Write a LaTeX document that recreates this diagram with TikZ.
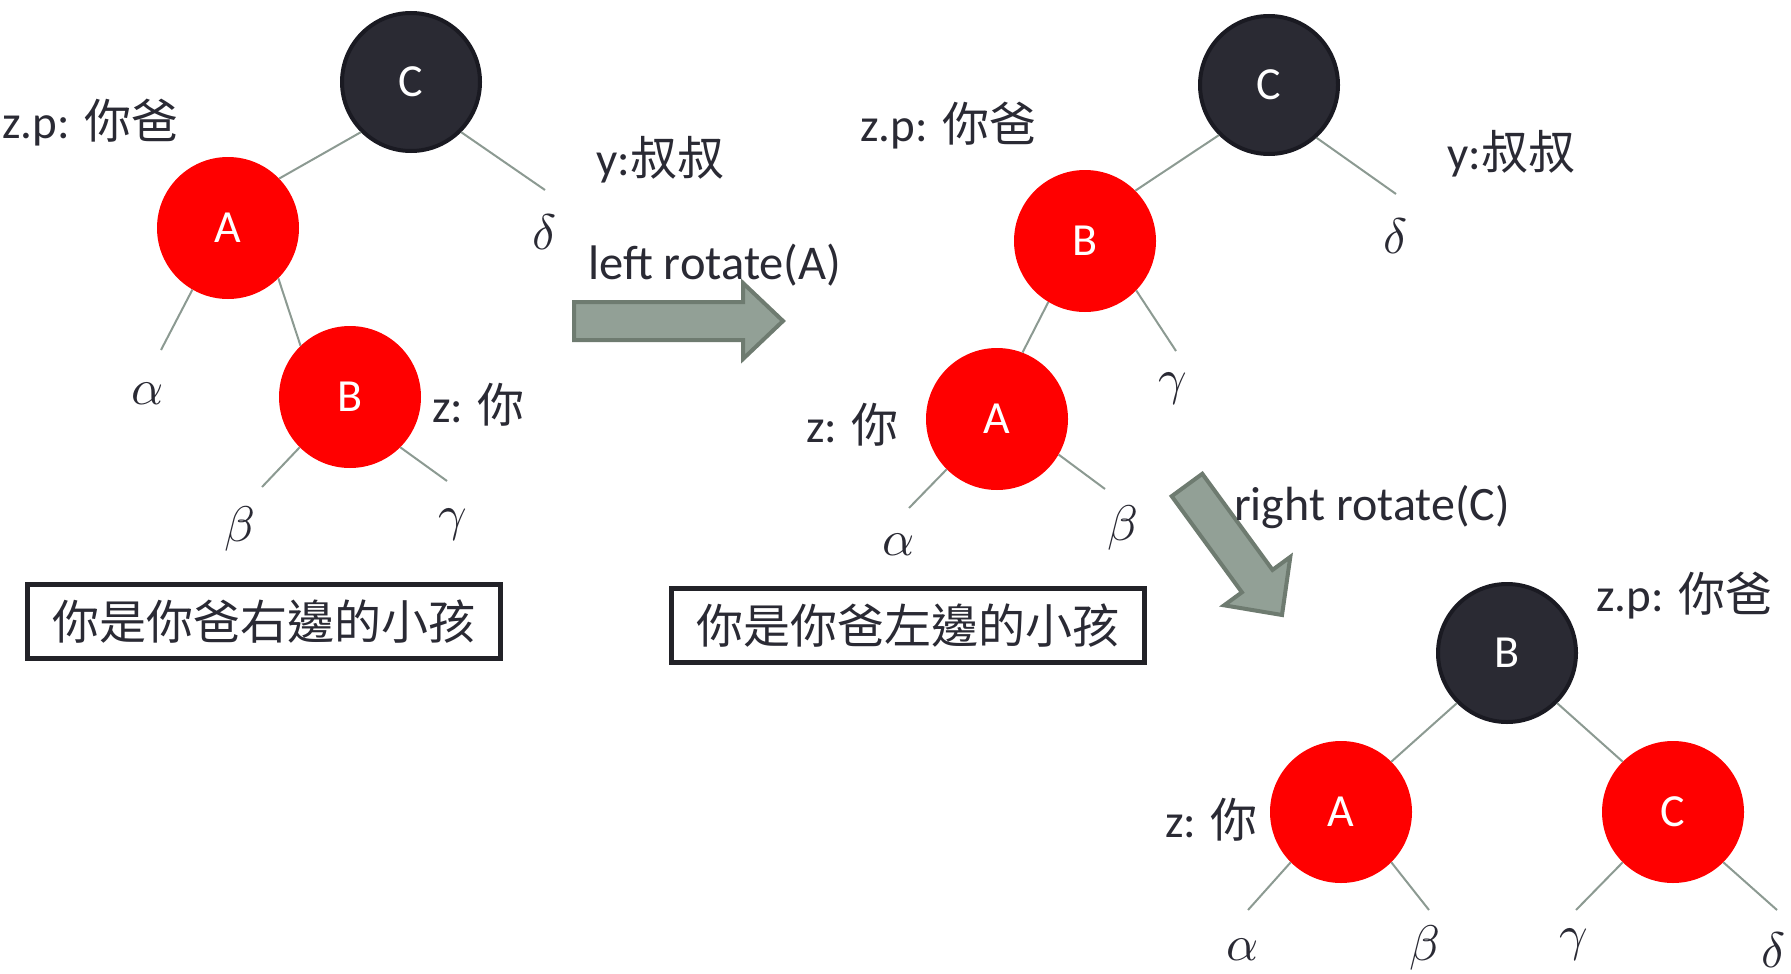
\documentclass[tikz,border=0pt]{standalone}
\usepackage{fontspec}
\setmainfont{Carlito}
\newfontfamily\cjk{Noto Sans CJK TC}
\DeclareFontShape{OML}{cmm}{m}{it}{<->cmmi10}{}
\definecolor{txt}{RGB}{42,42,52}
\definecolor{blk}{RGB}{42,42,51}
\definecolor{blkb}{RGB}{26,26,34}
\definecolor{edgec}{RGB}{140,154,146}
\definecolor{arrf}{RGB}{146,160,150}
\definecolor{arrb}{RGB}{110,123,112}
\definecolor{boxb}{RGB}{34,34,40}
\tikzset{
  rb/.style={circle, minimum size=142pt, inner sep=0pt, fill=red, text=white, font=\fontsize{46}{55}\selectfont},
  bk/.style={rb, minimum size=138pt, fill=blk, draw=blkb, line width=4pt},
  lbl/.style={anchor=west, inner sep=0pt, text=txt, font=\fontsize{47}{56}\selectfont},
  gr/.style={inner sep=0pt, text=txt, font=\fontsize{50}{60}\selectfont},
  br/.style={draw=edgec, line width=2pt},
  bigarrow/.style={fill=arrf, draw=arrb, line width=4pt, line join=miter},
  boxed/.style={draw=boxb, line width=5pt, minimum width=473pt, minimum height=74pt, inner sep=0pt, text=txt, font=\fontsize{47}{56}\selectfont\cjk}
}
\begin{document}
\begin{tikzpicture}[x=1pt,y=-1pt]
\useasboundingbox (0,0) rectangle (1791,974);
% block arrows
\draw[bigarrow] (574,302) -- (743,302) -- (743,283) -- (783,321) -- (743,359) -- (743,340) -- (574,340) -- cycle;
\draw[bigarrow] (1202.3,473.8) -- (1272.5,569.9) -- (1290.3,556.9) -- (1282,615) -- (1224.1,605.3) -- (1241.9,592.3) -- (1171.7,496.2) -- cycle;

% ---------- tree 1 ----------
\node[bk] (C1) at (411,82) {C};
\node[rb] (A1) at (228,228) {A};
\node[rb] (B1) at (350,397) {B};
\coordinate (d1e) at (545,190);
\coordinate (a1e) at (161,350);
\coordinate (b1e) at (262,487);
\coordinate (g1e) at (447,481);
\draw[br] (C1.225) -- (A1.44);
\draw[br] (C1.-45) -- (d1e);
\draw[br] (A1.240) -- (a1e);
\draw[br] (A1.-45) -- (B1.134);
\draw[br] (B1.225) -- (b1e);
\draw[br] (B1.-45) -- (g1e);
\node[lbl] (zp1) at (2,123) {z.p: {\cjk 你爸}};
\node[lbl] (y1) at (596,160) {y:{\cjk 叔叔}};
\node[lbl] (z1) at (432,405) {z: {\cjk 你}};
\node[gr] (d1) at (545,232) {$\delta$};
\node[gr] (a1) at (148,394) {$\alpha$};
\node[gr] (b1) at (240,529) {$\beta$};
\node[gr] (g1) at (453,525) {$\gamma$};
\node[boxed] (box1) at (264,621.5) {你是你爸右邊的小孩};

% ---------- tree 2 ----------
\node[bk] (C2) at (1269,85) {C};
\node[rb] (B2) at (1085,241) {B};
\node[rb] (A2) at (997,419) {A};
\coordinate (d2e) at (1396,194);
\coordinate (g2e) at (1176,351);
\coordinate (a2e) at (909,508);
\coordinate (b2e) at (1105,489);
\draw[br] (C2.225) -- (B2.45);
\draw[br] (C2.-48) -- (d2e);
\draw[br] (B2.239) -- (A2.69);
\draw[br] (B2.-44) -- (g2e);
\draw[br] (A2.225) -- (a2e);
\draw[br] (A2.-30) -- (b2e);
\node[lbl] (zp2) at (860,126) {z.p: {\cjk 你爸}};
\node[lbl] (y2) at (1447,154) {y:{\cjk 叔叔}};
\node[lbl] (z2) at (806,425) {z: {\cjk 你}};
\node[gr] (d2) at (1396,236) {$\delta$};
\node[gr] (g2) at (1173,389) {$\gamma$};
\node[gr] (a2) at (899,545) {$\alpha$};
\node[gr] (b2) at (1123,528) {$\beta$};
\node[boxed] (box2) at (907.5,625.5) {你是你爸左邊的小孩};
\node[lbl, font=\fontsize{48.5}{56}\selectfont] (lr) at (588,265) {left rotate(A)};

% ---------- tree 3 ----------
\node[bk] (B3) at (1507,653) {B};
\node[rb] (A3) at (1341,812) {A};
\node[rb] (C3) at (1673,812) {C};
\coordinate (a3e) at (1248,910);
\coordinate (b3e) at (1429,910);
\coordinate (g3e) at (1576,910);
\coordinate (d3e) at (1777,910);
\draw[br] (B3.225) -- (A3.45);
\draw[br] (B3.-45) -- (C3.135);
\draw[br] (A3.225) -- (a3e);
\draw[br] (A3.-45) -- (b3e);
\draw[br] (C3.225) -- (g3e);
\draw[br] (C3.-45) -- (d3e);
\node[lbl] (zp3) at (1596,596) {z.p: {\cjk 你爸}};
\node[lbl] (z3) at (1165,820) {z: {\cjk 你}};
\node[gr] (a3) at (1243,950) {$\alpha$};
\node[gr] (b3) at (1425,948) {$\beta$};
\node[gr] (g3) at (1574,945) {$\gamma$};
\node[gr] (d3) at (1774,950) {$\delta$};
\node[lbl, font=\fontsize{48}{56}\selectfont] (rr) at (1234,507) {right rotate(C)};
\end{tikzpicture}
\end{document}
